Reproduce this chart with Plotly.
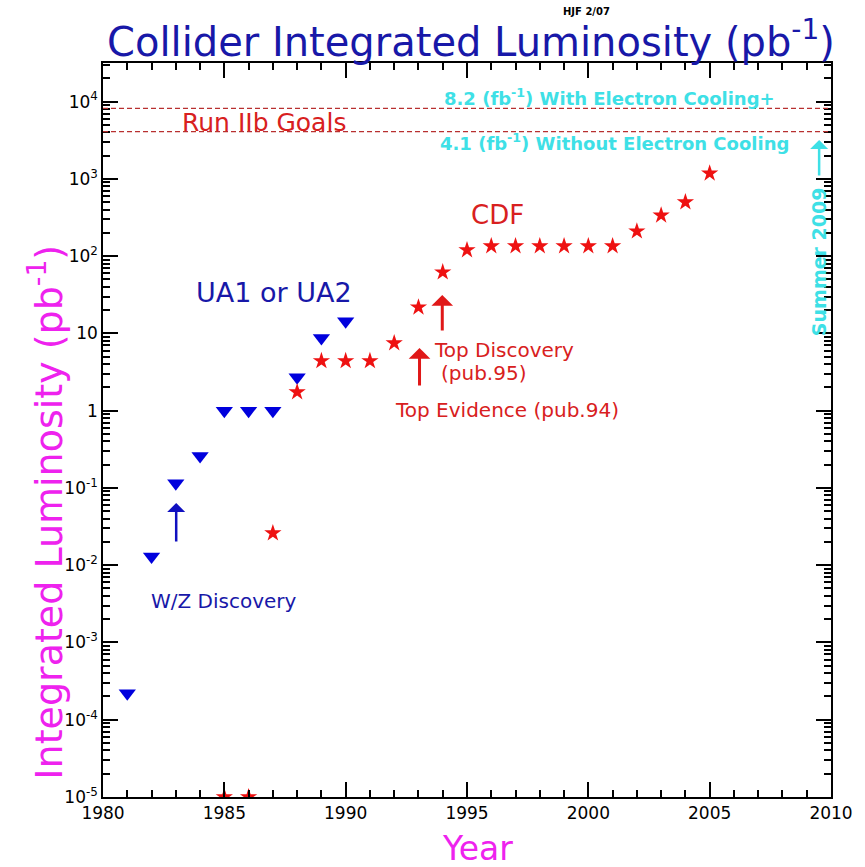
import plotly.graph_objects as go

# ---- data ----
ua_years = [1981, 1982, 1983, 1984, 1985, 1986, 1987, 1988, 1989, 1990]
ua_lumi = [2.2e-4, 1.3e-2, 0.115, 0.26, 1.0, 1.0, 1.0, 2.7, 8.7, 14.4]

cdf_years = [1985, 1986, 1987, 1988, 1989, 1990, 1991, 1992, 1993, 1994, 1995,
             1996, 1997, 1998, 1999, 2000, 2001, 2002, 2003, 2004, 2005]
cdf_lumi = [1e-5, 1e-5, 0.026, 1.74, 4.4, 4.4, 4.4, 7.5, 21.8, 62, 120,
            135, 135, 135, 135, 135, 135, 210, 337, 500, 1180]

goal_values = [8200, 4100]
goal_labels = ["8.2 (fb<sup>-1</sup>) With Electron Cooling+",
               "4.1 (fb<sup>-1</sup>) Without Electron Cooling"]

ytick_vals = [1e-5, 1e-4, 1e-3, 1e-2, 1e-1, 1, 10, 100, 1000, 10000]
ytick_text = ["10<sup>-5</sup>", "10<sup>-4</sup>", "10<sup>-3</sup>", "10<sup>-2</sup>",
              "10<sup>-1</sup>", "1", "10", "10<sup>2</sup>", "10<sup>3</sup>", "10<sup>4</sup>"]
xtick_vals = [1980, 1985, 1990, 1995, 2000, 2005, 2010]
xminor_vals = [y for y in range(1980, 2011) if y % 5 != 0]
yminor_vals = [m * 10 ** k for k in range(-5, 5) for m in range(2, 10)]

# ---- layout geometry (pixels) ----
W, H = 865, 867
L, R, T, B = 103, 839, 63, 797
PW, PH = R - L, B - T


def pxx(x):
    return (x - L) / PW


def pyy(y):
    return (B - y) / PH


FONT = "DejaVu Sans"
BLUE = "#1818a8"
TRED = "#d82020"
CYAN = "#3ee0e6"
MAG = "#ee22ee"
DRED = "#b83030"

fig = go.Figure()

fig.add_trace(go.Scatter(
    x=ua_years, y=ua_lumi, mode="markers", name="UA1 or UA2",
    marker=dict(symbol="triangle-down", size=15, color="#0000dd"),
    showlegend=False))

fig.add_trace(go.Scatter(
    x=cdf_years, y=cdf_lumi, mode="markers", name="CDF",
    marker=dict(symbol="star", size=13, color="#ee1111"),
    showlegend=False))

for v in goal_values:
    fig.add_hline(y=v, line=dict(color=DRED, width=1.3, dash="5px,3px"))

XR = [1980, 2010]
YR = [-5, 4.5]

fig.update_layout(
    width=W, height=H,
    margin=dict(l=L, r=W - R, t=T, b=H - B),
    paper_bgcolor="white", plot_bgcolor="rgba(0,0,0,0)",
    font=dict(family=FONT, color="black"),
    showlegend=False,
    title=dict(text="Collider Integrated Luminosity (pb<sup>-1</sup>)",
               font=dict(size=40, color=BLUE, family=FONT),
               x=pxx(475), xref="paper", xanchor="center",
               y=1 - 42 / H, yref="container", yanchor="middle"),
    xaxis=dict(range=XR, tickmode="array", tickvals=xtick_vals,
               ticks="inside", ticklen=15, tickwidth=2, tickcolor="black",
               showline=True, linecolor="black", linewidth=1.5, mirror="ticks",
               showgrid=False, zeroline=False, layer="above traces",
               tickfont=dict(size=17, family=FONT)),
    yaxis=dict(type="log", range=YR, tickmode="array", tickvals=ytick_vals,
               ticktext=ytick_text,
               ticks="inside", ticklen=15, tickwidth=2, tickcolor="black",
               showline=True, linecolor="black", linewidth=1.5, mirror="ticks",
               showgrid=False, zeroline=False, layer="above traces",
               tickfont=dict(size=17, family=FONT)),
    # minor ticks on all four edges
    xaxis2=dict(range=XR, overlaying="x", anchor="y", side="bottom",
                tickmode="array", tickvals=xminor_vals,
                ticks="inside", ticklen=7, tickwidth=1.5, tickcolor="black",
                showticklabels=False, showline=False, mirror="ticks",
                showgrid=False, zeroline=False, layer="above traces"),
    yaxis2=dict(type="log", range=YR, overlaying="y", anchor="x", side="left",
                tickmode="array", tickvals=yminor_vals,
                ticks="inside", ticklen=7, tickwidth=1.5, tickcolor="black",
                showticklabels=False, showline=False, mirror="ticks",
                showgrid=False, zeroline=False, layer="above traces"),
)

# invisible helper trace so the minor-tick axes are drawn
fig.add_trace(go.Scatter(x=[None], y=[None], xaxis="x2", yaxis="y2",
                         mode="markers", hoverinfo="skip", showlegend=False))

ann = []


def text(t, x, y, size, color, bold=False, angle=0):
    if bold:
        t = "<b>" + t + "</b>"
    ann.append(dict(text=t, x=pxx(x), y=pyy(y), xref="paper", yref="paper",
                    xanchor="center", yanchor="middle", showarrow=False,
                    textangle=angle, font=dict(size=size, color=color, family=FONT)))


text("Year", 482, 848, 33, MAG)
text("Integrated Luminosity (pb<sup>-1</sup>)", 45, 512, 38, MAG, angle=-90)
text("HJF 2/07", 592, 12, 10, "black", bold=True)
text("Run IIb Goals", 266, 122, 25, TRED)
text(goal_labels[0], 615, 97, 18, CYAN, bold=True)
text(goal_labels[1], 620, 142, 18, CYAN, bold=True)
text("Summer 2009", 827, 262, 19, CYAN, bold=True, angle=-90)
text("CDF", 502, 215, 26, TRED)
text("UA1 or UA2", 276, 292, 27, BLUE)
text("W/Z Discovery", 225, 601, 20, BLUE)
text("Top Discovery", 508, 350, 20, TRED)
text("(pub.95)", 488, 373, 20, TRED)
text("Top Evidence (pub.94)", 511, 410, 20, TRED)


def arrow(x, y, length, color, width):
    ann.append(dict(text="", x=pxx(x), y=pyy(y), xref="paper", yref="paper",
                    ax=0, ay=length, axref="pixel", ayref="pixel",
                    showarrow=True, arrowhead=1, arrowsize=1.2, arrowwidth=width,
                    arrowcolor=color))


arrow(177, 503, 40, "#1010c0", 2.5)
arrow(423, 348, 39, "#e01818", 3)
arrow(446, 295, 37, "#e01818", 3)
arrow(827, 140, 37, CYAN, 2.5)

fig.update_layout(annotations=ann)

fig.write_html("out.html")
